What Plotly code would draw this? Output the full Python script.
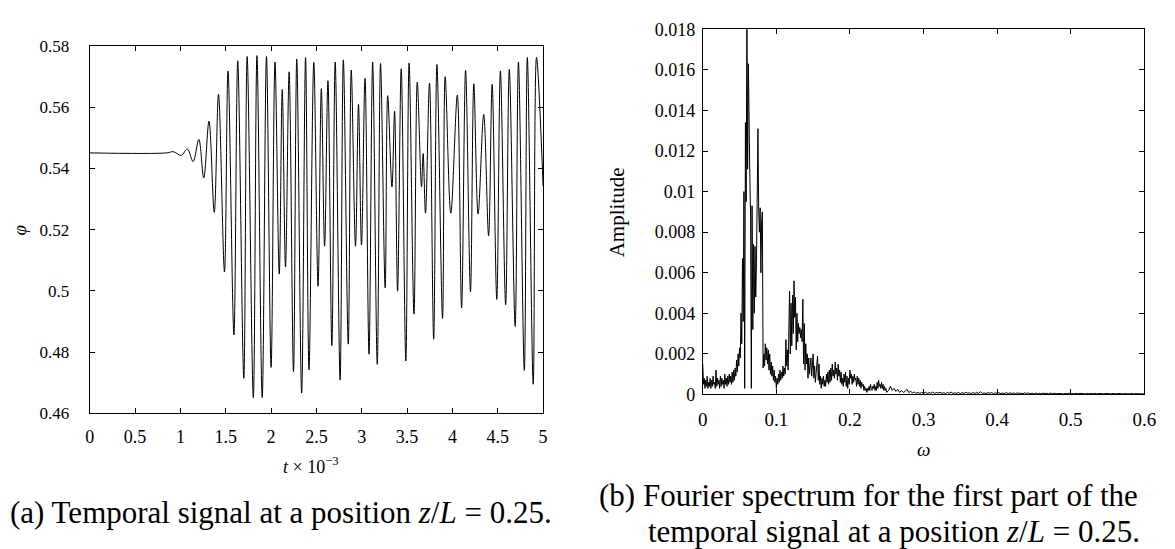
import numpy as np
import plotly.graph_objects as go

# ---------------- data: temporal signal (extrema) ----------------
t_points = [0.0, 0.85, 0.92, 1.01, 1.076, 1.14, 1.203, 1.257, 1.315, 1.373, 1.42, 1.486,
            1.525, 1.59, 1.632, 1.699, 1.736, 1.804, 1.844, 1.902, 1.949, 2.0, 2.043, 2.09,
            2.123, 2.159, 2.199, 2.247, 2.283, 2.337, 2.38, 2.418, 2.471, 2.518, 2.554, 2.59,
            2.627, 2.67, 2.707, 2.761, 2.797, 2.851, 2.884, 2.931, 2.964, 2.997, 3.036, 3.08,
            3.12, 3.171, 3.207, 3.258, 3.286, 3.333, 3.362, 3.395, 3.435, 3.486, 3.522, 3.576,
            3.612, 3.659, 3.677, 3.703, 3.747, 3.793, 3.829, 3.891, 3.92, 3.982, 4.054, 4.101,
            4.145, 4.199, 4.236, 4.283, 4.345, 4.399, 4.438, 4.489, 4.529, 4.587, 4.627, 4.692,
            4.728, 4.793, 4.826, 4.891, 4.927, 5.0]
phi_points = [0.5451, 0.5451, 0.5455, 0.5443, 0.5464, 0.5423, 0.5495, 0.5369, 0.5555, 0.5257,
              0.5643, 0.5062, 0.5719, 0.4856, 0.5752, 0.4714, 0.5766, 0.4651, 0.5769, 0.4651,
              0.5766, 0.4750, 0.5748, 0.5055, 0.5658, 0.5078, 0.5716, 0.4736, 0.5758, 0.4666,
              0.5763, 0.4742, 0.5747, 0.5015, 0.5661, 0.5146, 0.5687, 0.4821, 0.5748, 0.4709,
              0.5755, 0.4826, 0.5722, 0.5146, 0.5610, 0.5150, 0.5695, 0.4793, 0.5748, 0.4760,
              0.5743, 0.5010, 0.5638, 0.5340, 0.5587, 0.4999, 0.5726, 0.4771, 0.5745, 0.4924,
              0.5682, 0.5340, 0.5449, 0.5254, 0.5679, 0.4842, 0.5740, 0.4910, 0.5700, 0.5254,
              0.5640, 0.4945, 0.5721, 0.4997, 0.5677, 0.5251, 0.5577, 0.5180, 0.5675, 0.4972,
              0.5719, 0.4955, 0.5724, 0.4884, 0.5748, 0.4740, 0.5763, 0.4695, 0.5763, 0.5342]

# ---------------- data: Fourier spectrum (amplitude in units of 1e-4) ----------------
omega_step_low = 0.001      # 0 .. 0.25
amp_low_1e4 = [
    15, 5, 8, 3, 7, 4, 9, 3, 6, 4,
    8, 3, 7, 4, 9, 5, 6, 3, 12, 4,
    8, 5, 7, 3, 9, 4, 8, 5, 7, 3,
    10, 5, 8, 4, 9, 5, 10, 6, 9, 5,
    11, 6, 12, 7, 13, 9, 17, 11, 20, 14,
    23, 18, 40, 25, 67, 36, 100, 3, 134, 95,
    190, 111, 163, 107, 107, 88, 3, 93, 32, 74,
    40, 73, 48, 65, 98, 131, 91, 80, 92, 60,
    85, 90, 13, 20, 14, 25, 17, 23, 15, 22,
    12, 20, 10, 16, 9, 14, 7, 12, 6, 9,
    3, 8, 5, 10, 6, 12, 7, 11, 8, 14,
    9, 13, 10, 27, 14, 22, 12, 30, 51, 20,
    45, 24, 49, 30, 56, 38, 48, 22, 40, 26,
    35, 30, 33, 28, 32, 26, 47, 15, 35, 12,
    25, 15, 20, 8, 18, 10, 14, 18, 9, 16,
    20, 8, 14, 6, 12, 17, 19, 7, 15, 5,
    9, 3, 8, 5, 9, 4, 7, 4, 10, 6,
    11, 5, 12, 6, 13, 7, 15, 9, 12, 8,
    16, 10, 13, 7, 15, 9, 12, 6, 11, 5,
    8, 4, 10, 6, 11, 4, 9, 3, 8, 5,
    12, 8, 10, 5, 9, 6, 10, 7, 8, 4,
    9, 5, 8, 4, 7, 3, 6, 4, 5, 2,
    4, 2, 3, 1, 3, 2, 4, 2, 5, 3,
    2, 4, 3, 5, 2, 4, 2, 6, 3, 7,
    4, 5, 3, 6, 3, 5, 2, 4, 2, 3, 1,
]
omega_step_high = 0.0025    # 0.2525 .. 0.6
amp_high_1e4 = [
    2, 4, 2, 3, 1.5, 2.5, 1, 2, 1, 1.5,
    2.5, 1, 1.5, 0.8, 1.2, 0.6, 1, 0.5, 1, 0.6,
    1.1, 0.5, 0.9, 0.6, 1.2, 0.5, 1.0, 0.7, 1.1, 0.5,
    0.9, 0.4, 1.0, 0.6, 1.2, 0.5, 0.8, 0.6, 1.0, 0.4,
    0.9, 0.5, 1.1, 0.6, 0.8, 0.4, 1.0, 0.5, 0.9, 0.6,
    1.3, 0.5, 0.8, 0.4, 0.9, 0.6, 1.0, 0.4, 0.8, 0.5,
    0.9, 0.4, 0.7, 0.5, 0.9, 0.4, 0.8, 0.5, 0.7, 0.4,
    0.8, 0.5, 0.7, 0.3, 0.8, 0.5, 0.7, 0.4, 0.6, 0.3,
    0.7, 0.4, 0.6, 0.3, 0.7, 0.4, 0.6, 0.3, 0.7, 0.4,
    0.6, 0.3, 0.5, 0.4, 0.6, 0.3, 0.5, 0.3, 0.6, 0.4,
    0.5, 0.3, 0.6, 0.3, 0.5, 0.4, 0.6, 0.3, 0.5, 0.3,
    0.5, 0.3, 0.6, 0.3, 0.5, 0.4, 0.5, 0.3, 0.5, 0.3,
    0.4, 0.3, 0.5, 0.3, 0.4, 0.3, 0.5, 0.3, 0.4, 0.3,
    0.4, 0.3, 0.5, 0.3, 0.4, 0.3, 0.4, 0.3, 0.4, 0.3,
]

omega_low = np.arange(len(amp_low_1e4)) * omega_step_low
omega_high = omega_low[-1] + (np.arange(len(amp_high_1e4)) + 1) * omega_step_high
omega = np.concatenate([omega_low, omega_high])
amplitude = np.concatenate([np.array(amp_low_1e4), np.array(amp_high_1e4)]) * 1e-4

# ---------------- tick labels ----------------
left_x_ticks = [0, 0.5, 1, 1.5, 2, 2.5, 3, 3.5, 4, 4.5, 5]
left_x_text = ["0", "0.5", "1", "1.5", "2", "2.5", "3", "3.5", "4", "4.5", "5"]
left_y_ticks = [0.46, 0.48, 0.50, 0.52, 0.54, 0.56, 0.58]
left_y_text = ["0.46", "0.48", "0.5", "0.52", "0.54", "0.56", "0.58"]
right_x_ticks = [0, 0.1, 0.2, 0.3, 0.4, 0.5, 0.6]
right_x_text = ["0", "0.1", "0.2", "0.3", "0.4", "0.5", "0.6"]
right_y_ticks = [0, 0.002, 0.004, 0.006, 0.008, 0.010, 0.012, 0.014, 0.016, 0.018]
right_y_text = ["0", "0.002", "0.004", "0.006", "0.008", "0.01", "0.012", "0.014", "0.016", "0.018"]

W, H = 1175, 549
FONT = "Liberation Serif, Times New Roman, serif"

fig = go.Figure()
fig.add_trace(go.Scatter(x=t_points, y=phi_points, mode="lines",
                         line=dict(color="black", width=1, shape="spline", smoothing=1.0),
                         xaxis="x", yaxis="y", showlegend=False, hoverinfo="skip"))
fig.add_trace(go.Scatter(x=omega, y=amplitude, mode="lines",
                         line=dict(color="black", width=1), xaxis="x2", yaxis="y2",
                         showlegend=False, hoverinfo="skip"))

def axis_style(size):
    return dict(showgrid=False, zeroline=False, showline=True, linecolor="black",
                linewidth=1, mirror="ticks", ticks="inside", ticklen=5, tickwidth=1,
                tickcolor="black", tickfont=dict(family=FONT, size=size, color="black"))

fig.update_layout(
    width=W, height=H, margin=dict(l=0, r=0, t=0, b=0),
    paper_bgcolor="white", plot_bgcolor="white",
    xaxis=dict(domain=[86 / W, 546 / W], range=[0, 5], anchor="y",
               tickvals=left_x_ticks, ticktext=left_x_text, ticklabelstandoff=7, **axis_style(18)),
    yaxis=dict(domain=[1 - 418.5 / H, 1 - 37.5 / H], range=[0.46, 0.58], anchor="x",
               tickvals=left_y_ticks, ticktext=left_y_text, ticklabelstandoff=16, **axis_style(17)),
    xaxis2=dict(domain=[708 / W, 1156 / W], range=[0, 0.6], anchor="y2",
                tickvals=right_x_ticks, ticktext=right_x_text, ticklabelstandoff=8, **axis_style(19)),
    yaxis2=dict(domain=[1 - 399 / H, 1 - 20 / H], range=[0, 0.018], anchor="x2",
                tickvals=right_y_ticks, ticktext=right_y_text, ticklabelstandoff=3, **axis_style(18)),
)

def ann(text, x, y, size, xanchor="center", yanchor="middle", angle=0):
    fig.add_annotation(text=text, x=x / W, y=1 - y / H, xref="paper", yref="paper",
                       xanchor=xanchor, yanchor=yanchor, showarrow=False, textangle=angle,
                       font=dict(family=FONT, size=size, color="black"))

ann("<i>t</i> × 10<sup>−3</sup>", 310, 473, 18)
ann("<i>φ</i>", 15, 228, 19, angle=-90)
ann("Amplitude", 621, 210, 21, angle=-90)
ann("<i>ω</i>", 932, 456, 19)
ann("(a) Temporal signal at a position <i>z</i>/<i>L</i> = 0.25.", 3, 522, 31, xanchor="left")
ann("(b) Fourier spectrum for the first part of the", 601, 504, 31, xanchor="left")
ann("temporal signal at a position <i>z</i>/<i>L</i> = 0.25.", 650, 541, 31, xanchor="left")

fig.write_html("out.html")
